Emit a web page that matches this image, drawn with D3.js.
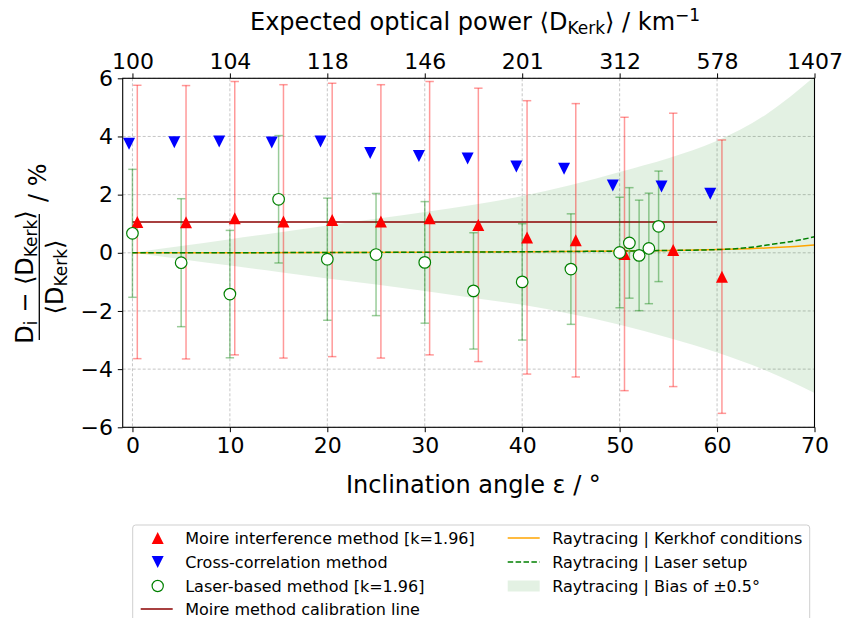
<!DOCTYPE html>
<html>
<head>
<meta charset="utf-8">
<script src="https://cdn.jsdelivr.net/npm/d3@7"></script>
<style>
    body { margin: 0; background: #fff; }
    svg { font-family: "DejaVu Sans", sans-serif; }
</style>
</head>
<body>
<svg id="chart" width="845" height="618"></svg>
<script>
// Moire interference method, k=1.96
const moireAngles = [0.5, 5.5, 10.5, 15.5, 20.5, 25.5, 30.5, 35.5, 40.5, 45.5, 50.5, 55.5, 60.5];
const moireValues = [1.06, 1.05, 1.19, 1.08, 1.13, 1.08, 1.19, 0.96, 0.53, 0.43, -0.04, 0.10, -0.82];
const moireErrors = [4.7, 4.7, 4.7, 4.7, 4.7, 4.7, 4.7, 4.7, 4.7, 4.7, 4.7, 4.7, 4.7];
const calibrationLevel = 1.06;
const calibrationRange = [0, 60];

// Cross-correlation method
const crossAngles = [-0.35, 4.3, 8.9, 14.3, 19.3, 24.4, 29.4, 34.4, 39.4, 44.3, 49.3, 54.3, 59.3];
const crossValues = [3.75, 3.80, 3.83, 3.79, 3.83, 3.43, 3.33, 3.24, 2.97, 2.89, 2.31, 2.28, 2.03];

// Laser-based method, k=1.96
const laserAngles = [0, 5, 10, 15, 20, 25, 30, 35, 40, 45, 50, 51, 52, 53, 54];
const laserValues = [0.67, -0.34, -1.42, 1.84, -0.22, -0.06, -0.33, -1.31, -1.0, -0.56, 0.01, 0.34, -0.09, 0.15, 0.91];
const laserErrors = [2.2, 2.2, 2.19, 2.19, 2.1, 2.1, 2.09, 2.0, 2.0, 1.9, 1.9, 1.9, 1.9, 1.9, 1.9];

// Raytracing curves
const rayAngles = [0, 10, 20, 30, 40, 50, 55, 60, 63, 66, 68, 70];
const rayKerkhof = [0, 0.003, 0.01, 0.02, 0.035, 0.06, 0.08, 0.11, 0.14, 0.18, 0.22, 0.27];
const rayLaser = [0, 0.003, 0.01, 0.02, 0.035, 0.06, 0.08, 0.11, 0.17, 0.31, 0.41, 0.55];

// Raytracing band for a bias of +-0.5 deg
const bandAngles = [0, 5, 10, 15, 20, 25, 30, 35, 40, 45, 50, 55, 60, 65, 70];
const bandUpper = [0, 0.23, 0.47, 0.70, 0.94, 1.17, 1.40, 1.65, 1.95, 2.33, 2.78, 3.25, 3.85, 4.75, 6.06];
const bandLower = [0, -0.22, -0.44, -0.66, -0.88, -1.09, -1.31, -1.55, -1.79, -2.10, -2.47, -2.92, -3.43, -4.05, -4.82];

// Axis ticks
const angleTicks = [0, 10, 20, 30, 40, 50, 60, 70];
const powerTickLabels = ['100', '104', '118', '146', '201', '312', '578', '1407'];
const yTicks = [-6, -4, -2, 0, 2, 4, 6];

const margin = { top: 78.3, right: 30.5, bottom: 190.7, left: 122.7 };
const width = 845 - margin.left - margin.right;
const height = 618 - margin.top - margin.bottom;

const svg = d3.select('#chart');
const g = svg.append('g')
    .attr('transform', `translate(${margin.left},${margin.top})`);

const xScale = d3.scaleLinear().domain([-1, 70]).range([0, width]);
const yScale = d3.scaleLinear().domain([-6, 6]).range([height, 0]);

// Grid
const grid = g.append('g').attr('class', 'grid')
    .attr('stroke', '#b8b8b8')
    .attr('stroke-width', 0.8)
    .attr('stroke-dasharray', '3,2');
grid.selectAll('.vx').data(angleTicks).enter().append('line')
    .attr('x1', d => xScale(d)).attr('x2', d => xScale(d))
    .attr('y1', 0).attr('y2', height);
grid.selectAll('.hy').data(yTicks).enter().append('line')
    .attr('x1', 0).attr('x2', width)
    .attr('y1', d => yScale(d)).attr('y2', d => yScale(d));

// Bias band
const bandData = bandAngles.map((a, i) => ({ a, lo: bandLower[i], hi: bandUpper[i] }));
g.append('path')
    .datum(bandData)
    .attr('fill', 'green')
    .attr('fill-opacity', 0.11)
    .attr('d', d3.area()
        .x(d => xScale(d.a))
        .y0(d => yScale(d.lo))
        .y1(d => yScale(d.hi))
        .curve(d3.curveMonotoneX));

// Raytracing lines
const rayLine = vals => d3.line()
    .x((d, i) => xScale(rayAngles[i]))
    .y(d => yScale(d))
    .curve(d3.curveMonotoneX)(vals);

g.append('path')
    .attr('d', rayLine(rayKerkhof))
    .attr('fill', 'none')
    .attr('stroke', 'orange')
    .attr('stroke-width', 1.5);

g.append('path')
    .attr('d', rayLine(rayLaser))
    .attr('fill', 'none')
    .attr('stroke', 'green')
    .attr('stroke-width', 1.5)
    .attr('stroke-dasharray', '5.5,2.4');

// Calibration line
g.append('line')
    .attr('x1', xScale(calibrationRange[0]))
    .attr('x2', xScale(calibrationRange[1]))
    .attr('y1', yScale(calibrationLevel))
    .attr('y2', yScale(calibrationLevel))
    .attr('stroke', 'darkred')
    .attr('stroke-width', 1.5);

// Error bars
function errorBars(angles, values, errors, color, opacity) {
    const eb = g.append('g')
        .attr('stroke', color)
        .attr('stroke-opacity', opacity)
        .attr('stroke-width', 1.5);
    angles.forEach((a, i) => {
        const cx = xScale(a);
        const top = yScale(values[i] + errors[i]);
        const bot = yScale(values[i] - errors[i]);
        eb.append('line').attr('x1', cx).attr('x2', cx).attr('y1', top).attr('y2', bot);
        eb.append('line').attr('x1', cx - 4.2).attr('x2', cx + 4.2).attr('y1', top).attr('y2', top);
        eb.append('line').attr('x1', cx - 4.2).attr('x2', cx + 4.2).attr('y1', bot).attr('y2', bot);
    });
}
errorBars(moireAngles, moireValues, moireErrors, 'red', 0.4);
errorBars(laserAngles, laserValues, laserErrors, 'green', 0.4);

const s = 6;
const triUp = `M0,${-s}L${s},${s}L${-s},${s}Z`;
const triDown = `M0,${s}L${s},${-s}L${-s},${-s}Z`;

g.selectAll('.moire').data(moireAngles).enter().append('path')
    .attr('d', triUp)
    .attr('transform', (d, i) => `translate(${xScale(d)},${yScale(moireValues[i])})`)
    .attr('fill', 'red');

g.selectAll('.cross').data(crossAngles).enter().append('path')
    .attr('d', triDown)
    .attr('transform', (d, i) => `translate(${xScale(d)},${yScale(crossValues[i])})`)
    .attr('fill', 'blue');

g.selectAll('.laser').data(laserAngles).enter().append('circle')
    .attr('cx', d => xScale(d))
    .attr('cy', (d, i) => yScale(laserValues[i]))
    .attr('r', 5.8)
    .attr('fill', 'white')
    .attr('stroke', 'green')
    .attr('stroke-width', 1.2);

// Frame
g.append('rect')
    .attr('width', width).attr('height', height)
    .attr('fill', 'none').attr('stroke', '#000').attr('stroke-width', 1.1);

// Axes
function styleAxis(sel) {
    sel.select('.domain').remove();
    sel.selectAll('.tick line').attr('stroke', '#000').attr('stroke-width', 1);
    sel.selectAll('.tick text').attr('font-size', 22).attr('fill', '#000')
        .attr('font-family', '"DejaVu Sans", sans-serif');
}

g.append('g')
    .attr('transform', `translate(0,${height})`)
    .call(d3.axisBottom(xScale).tickValues(angleTicks).tickSize(4.9).tickPadding(4.9))
    .call(styleAxis);

g.append('g')
    .call(d3.axisTop(xScale).tickValues(angleTicks)
        .tickFormat((d, i) => powerTickLabels[i]).tickSize(4.9).tickPadding(4.9))
    .call(styleAxis);

g.append('g')
    .call(d3.axisLeft(yScale).tickValues(yTicks).tickSize(4.9).tickPadding(4.9))
    .call(styleAxis);

// Axis labels
svg.append('text')
    .attr('x', 346).attr('y', 492.7)
    .attr('font-size', 24)
    .text('Inclination angle ε / °');

const title = svg.append('text')
    .attr('x', 250).attr('y', 30)
    .attr('font-size', 24);
title.append('tspan').text('Expected optical power ⟨D');
title.append('tspan').attr('font-size', 17).attr('dy', 4).text('Kerk');
title.append('tspan').attr('dy', -4).text('⟩ / km');
title.append('tspan').attr('font-size', 17).attr('dy', -9).text('−1');

// y label: fraction, rotated
const yl = svg.append('g').attr('transform', 'translate(39.3,277) rotate(-90)');
const num = yl.append('text').attr('x', 0).attr('y', -6)
    .attr('text-anchor', 'middle').attr('font-size', 24);
num.append('tspan').text('D');
num.append('tspan').attr('font-size', 17).attr('dy', 4).text('i');
num.append('tspan').attr('dy', -4).text(' − ⟨D');
num.append('tspan').attr('font-size', 17).attr('dy', 4).text('Kerk');
num.append('tspan').attr('dy', -4).text('⟩');

yl.append('line')
    .attr('x1', -63).attr('x2', 63).attr('y1', 0).attr('y2', 0)
    .attr('stroke', '#000').attr('stroke-width', 1.3);

const den = yl.append('text').attr('x', 0).attr('y', 23.5)
    .attr('text-anchor', 'middle').attr('font-size', 24);
den.append('tspan').text('⟨D');
den.append('tspan').attr('font-size', 17).attr('dy', 4).text('Kerk');
den.append('tspan').attr('dy', -4).text('⟩');

yl.append('text').attr('x', 75).attr('y', 7)
    .attr('font-size', 24).text('/ %');

// Legend
const legend = svg.append('g').attr('transform', 'translate(132.7,525)');
legend.append('rect')
    .attr('width', 677).attr('height', 110)
    .attr('rx', 3)
    .attr('fill', '#fff')
    .attr('stroke', '#cfcfcf');

const rowY = [13, 37, 61, 84];
const leftItems = [
    { label: 'Moire interference method [k=1.96]', kind: 'up' },
    { label: 'Cross-correlation method', kind: 'down' },
    { label: 'Laser-based method [k=1.96]', kind: 'circle' },
    { label: 'Moire method calibration line', kind: 'line', color: 'darkred' }
];
const rightItems = [
    { label: 'Raytracing | Kerkhof conditions', kind: 'line', color: 'orange' },
    { label: 'Raytracing | Laser setup', kind: 'dash', color: 'green' },
    { label: 'Raytracing | Bias of ±0.5°', kind: 'patch' }
];

function legendItem(item, x0, yy) {
    if (item.kind === 'up') {
        legend.append('path').attr('d', triUp).attr('fill', 'red')
            .attr('transform', `translate(${x0 + 25},${yy})`);
    } else if (item.kind === 'down') {
        legend.append('path').attr('d', triDown).attr('fill', 'blue')
            .attr('transform', `translate(${x0 + 25},${yy})`);
    } else if (item.kind === 'circle') {
        legend.append('circle').attr('cx', x0 + 25).attr('cy', yy).attr('r', 5.6)
            .attr('fill', 'white').attr('stroke', 'green').attr('stroke-width', 1.2);
    } else if (item.kind === 'line' || item.kind === 'dash') {
        legend.append('line').attr('x1', x0 + 8).attr('x2', x0 + 40)
            .attr('y1', yy).attr('y2', yy)
            .attr('stroke', item.color).attr('stroke-width', 1.5)
            .attr('stroke-dasharray', item.kind === 'dash' ? '5.5,2.4' : null);
    } else if (item.kind === 'patch') {
        legend.append('rect').attr('x', x0 + 8).attr('y', yy - 5.5)
            .attr('width', 32).attr('height', 11)
            .attr('fill', 'green').attr('fill-opacity', 0.11);
    }
    legend.append('text').attr('x', x0 + 52.5).attr('y', yy)
        .attr('dy', '0.36em').attr('font-size', 16).text(item.label);
}
leftItems.forEach((it, i) => legendItem(it, 0, rowY[i]));
rightItems.forEach((it, i) => legendItem(it, 367, rowY[i]));
</script>
</body>
</html>
